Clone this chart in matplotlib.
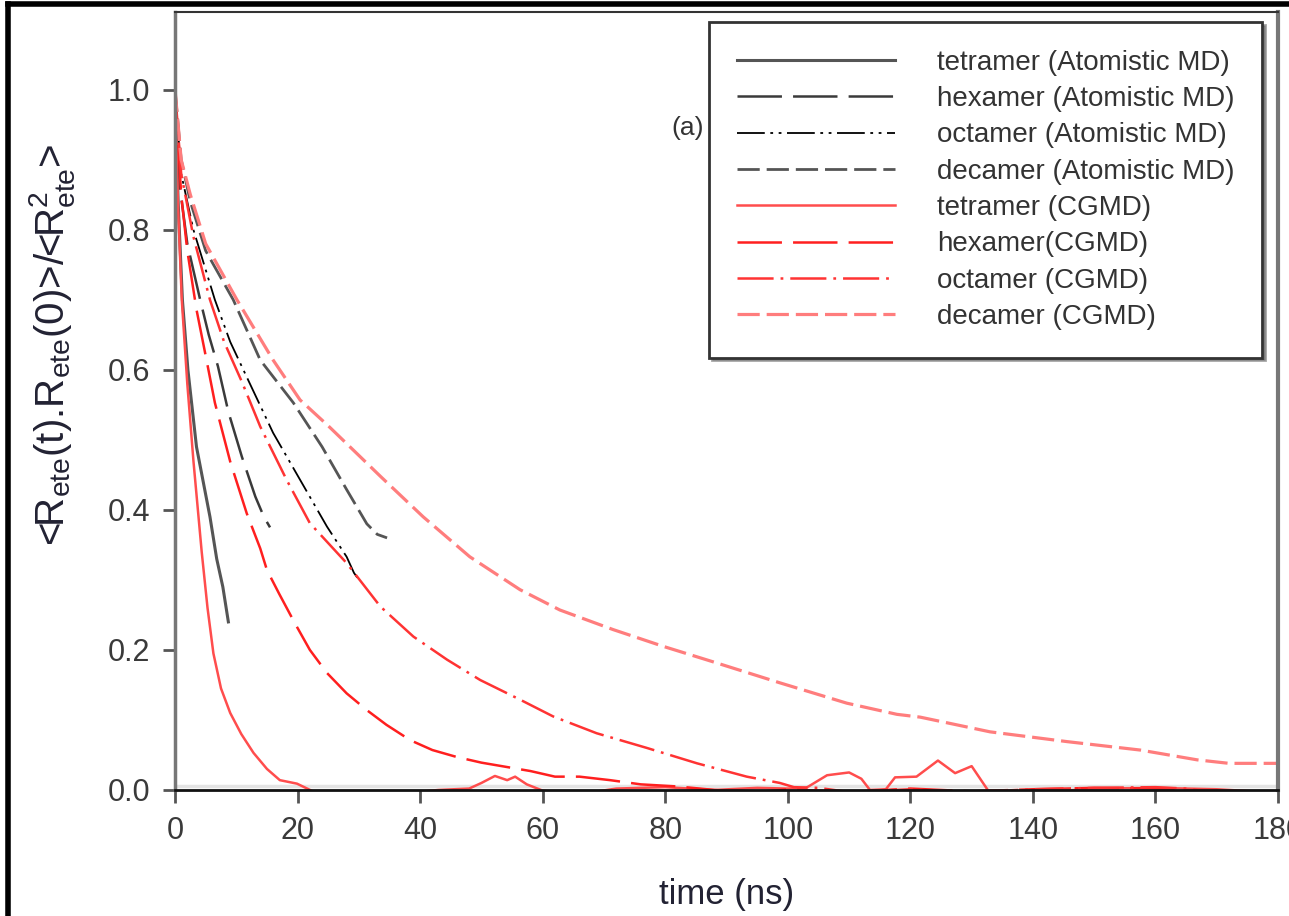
import matplotlib
matplotlib.use('Agg')
import matplotlib.pyplot as plt
from matplotlib.lines import Line2D

plt.rcParams['font.family'] = ['Liberation Sans', 'DejaVu Sans']
plt.rcParams['mathtext.default'] = 'regular'
plt.rcParams['lines.scale_dashes'] = False

# atomistic MD curves
at_tetra_t = [0, 0.5, 1.2, 2.1, 3.5, 4.6, 5.7, 6.8, 7.8, 8.7]
at_tetra_y = [1.0, 0.84, 0.70, 0.60, 0.49, 0.44, 0.39, 0.33, 0.29, 0.24]

at_hexa_t = [0, 0.8, 2.0, 4.1, 5.5, 7.0, 8.7, 10.9, 13.1, 14.5, 15.5]
at_hexa_y = [1.0, 0.86, 0.78, 0.70, 0.65, 0.605, 0.54, 0.476, 0.419, 0.39, 0.375]

at_octa_t = [0, 1.0, 3.0, 6.5, 9.0, 11.9, 16.0, 20.4, 24.8, 28.0, 29.2, 30.0]
at_octa_y = [1.0, 0.88, 0.80, 0.70, 0.64, 0.586, 0.51, 0.443, 0.376, 0.333, 0.31, 0.30]

at_deca_t = [0, 1.0, 2.5, 5.0, 9.5, 13.9, 19.3, 24.0, 28.0, 31.3, 33.0, 34.6]
at_deca_y = [1.0, 0.90, 0.84, 0.77, 0.70, 0.614, 0.553, 0.49, 0.429, 0.38, 0.365, 0.36]

# coarse grained MD curves
cg_tetra_t = [0, 0.5, 1.1, 2.0, 3.0, 4.35, 5.3, 6.26, 7.5, 9.0, 10.8, 12.8, 15.0, 17.1,
              19.9, 22.5, 30, 38, 43, 48, 50, 52.2, 54.2, 55.5, 57.4, 60, 66, 72, 80, 88,
              95, 100, 103, 106.4, 110, 112, 113.4, 116, 117.5, 121, 124.5, 127.3, 130,
              132.7, 140, 150, 160, 170, 180]
cg_tetra_y = [1.0, 0.83, 0.70, 0.58, 0.47, 0.34, 0.26, 0.195, 0.145, 0.11, 0.08, 0.053,
              0.03, 0.014, 0.009, -0.002, -0.01, -0.004, 0.0, 0.002, 0.01, 0.02, 0.014,
              0.019, 0.008, -0.001, -0.006, 0.002, 0.004, 0.0, 0.003, 0.002, 0.003, 0.021,
              0.025, 0.016, 0.0, 0.001, 0.018, 0.019, 0.042, 0.024, 0.034, -0.001, -0.004,
              0.002, 0.003, 0.001, -0.004]

cg_hexa_t = [0, 1.0, 2.0, 3.5, 5.0, 6.5, 9.0, 11.7, 13.9, 15.0, 17.0, 19.5, 22.0, 24.8,
             28.0, 31.3, 34.5, 38.4, 42, 46, 50, 54, 58, 62, 66, 71, 76, 82, 88, 94, 100,
             110, 120, 130, 140, 150, 160, 170]
cg_hexa_y = [1.0, 0.85, 0.77, 0.686, 0.62, 0.553, 0.469, 0.395, 0.345, 0.314, 0.28, 0.239,
             0.20, 0.167, 0.138, 0.114, 0.093, 0.071, 0.057, 0.047, 0.039, 0.033, 0.027,
             0.019, 0.019, 0.014, 0.008, 0.005, 0.0, -0.004, 0.001, -0.003, 0.002, -0.002,
             0.001, 0.003, 0.002, -0.003]

cg_octa_t = [0, 1.0, 3.0, 5.7, 8.0, 10.9, 13.9, 18.2, 22.0, 28.0, 33.5, 38.9, 44.4, 49.8,
             56.3, 61.7, 68.8, 77.0, 85.2, 93.3, 98.7, 101, 105, 110, 120, 130, 140, 150,
             160, 165, 170]
cg_octa_y = [1.0, 0.88, 0.79, 0.70, 0.64, 0.583, 0.519, 0.443, 0.381, 0.324, 0.262, 0.219,
             0.186, 0.157, 0.129, 0.105, 0.081, 0.06, 0.038, 0.019, 0.01, 0.004, 0.003,
             -0.003, 0.001, -0.003, 0.001, 0.003, 0.004, 0.002, -0.004]

cg_deca_t = [0, 1.0, 2.5, 5.0, 10.1, 16.0, 20.4, 25.0, 30.2, 33.5, 40.5, 48.1, 56.3, 62.8,
             71.5, 79.7, 87.8, 98.7, 109.6, 117.8, 121.6, 133, 145.6, 157.5, 166.8, 172, 180]
cg_deca_y = [1.0, 0.90, 0.85, 0.78, 0.70, 0.614, 0.557, 0.52, 0.476, 0.448, 0.39, 0.333,
             0.286, 0.257, 0.229, 0.205, 0.183, 0.153, 0.124, 0.108, 0.104, 0.083, 0.069,
             0.057, 0.043, 0.038, 0.038]

labels = ['tetramer (Atomistic MD)', 'hexamer (Atomistic MD)', 'octamer (Atomistic MD)',
          'decamer (Atomistic MD)', 'tetramer (CGMD)', 'hexamer(CGMD)', 'octamer (CGMD)',
          'decamer (CGMD)']
x_ticks = [0, 20, 40, 60, 80, 100, 120, 140, 160, 180]
y_ticks = [0.0, 0.2, 0.4, 0.6, 0.8, 1.0]


fig = plt.figure(figsize=(12.89, 9.16), dpi=100)
ax = fig.add_axes([0.1358, 0.1376, 0.8557, 0.8493])

series = [
    (at_tetra_t, at_tetra_y, '#555555', 2.2, '-'),
    (at_hexa_t, at_hexa_y, '#3a3a3a', 1.8, (0, (32, 8))),
    (at_octa_t, at_octa_y, '#000000', 1.3, (0, (20, 4, 2, 4, 2, 4))),
    (at_deca_t, at_deca_y, '#555555', 2.0, (0, (16, 5))),
    (cg_tetra_t, cg_tetra_y, '#ff4d4d', 1.8, '-'),
    (cg_hexa_t, cg_hexa_y, '#ff1f1f', 1.8, (0, (32, 8))),
    (cg_octa_t, cg_octa_y, '#ff3333', 1.8, (0, (26, 5, 2, 5))),
    (cg_deca_t, cg_deca_y, '#ff7d7d', 2.3, (0, (16, 5))),
]
for (t, y, c, lw, ls), lab in zip(series, labels):
    ax.plot(t, y, color=c, lw=lw, linestyle=ls, label=lab)

# faint scan band just above the axis
ax.axhline(0.005, color='#e4e4e4', lw=2.5, zorder=0)

ax.set_xlim(0, 180)
ax.set_ylim(0, 1.111)
ax.set_xticks(x_ticks)
ax.set_yticks(y_ticks)
ax.set_yticklabels(['%.1f' % v for v in y_ticks])
ax.tick_params(axis='both', direction='out', length=9, width=2, color='#555555',
               labelsize=22, labelcolor='#3a3a3a')
ax.tick_params(axis='x', pad=10)
ax.tick_params(axis='y', pad=9)

ax.spines['left'].set_color('#777777')
ax.spines['left'].set_linewidth(2.5)
ax.spines['right'].set_color('#777777')
ax.spines['right'].set_linewidth(3)
ax.spines['top'].set_color('#333333')
ax.spines['top'].set_linewidth(1.5)
ax.spines['bottom'].set_color('#111111')
ax.spines['bottom'].set_linewidth(2)

ax.set_xlabel('time (ns)', fontsize=25, color='#222233')
ax.xaxis.set_label_coords(0.5, -0.113)
ax.set_ylabel(r'<R$_{ete}$(t).R$_{ete}$(0)>/<R$_{ete}^{2}$>', fontsize=29, color='#222233')
ax.yaxis.set_label_coords(-0.089, 0.572)

ax.text(83.7, 0.946, '(a)', fontsize=19, color='#333333', ha='center', va='center')

leg = ax.legend(loc='upper right', bbox_to_anchor=(0.9855, 0.987), borderaxespad=0,
                fontsize=20, handlelength=5.7, handletextpad=1.5, labelspacing=0.37,
                borderpad=1.0, shadow=True, fancybox=False, framealpha=1,
                edgecolor='#333333')
leg.get_frame().set_linewidth(2)
for txt in leg.get_texts():
    txt.set_color('#333333')

# black frame round the figure
fig.add_artist(Line2D([8 / 1289, 1.0], [1 - 4 / 916, 1 - 4 / 916], color='black', lw=4,
                      transform=fig.transFigure))
fig.add_artist(Line2D([8 / 1289, 8 / 1289], [0.0, 1 - 4 / 916], color='black', lw=4,
                      transform=fig.transFigure))

fig.savefig('out.png', dpi=100)
